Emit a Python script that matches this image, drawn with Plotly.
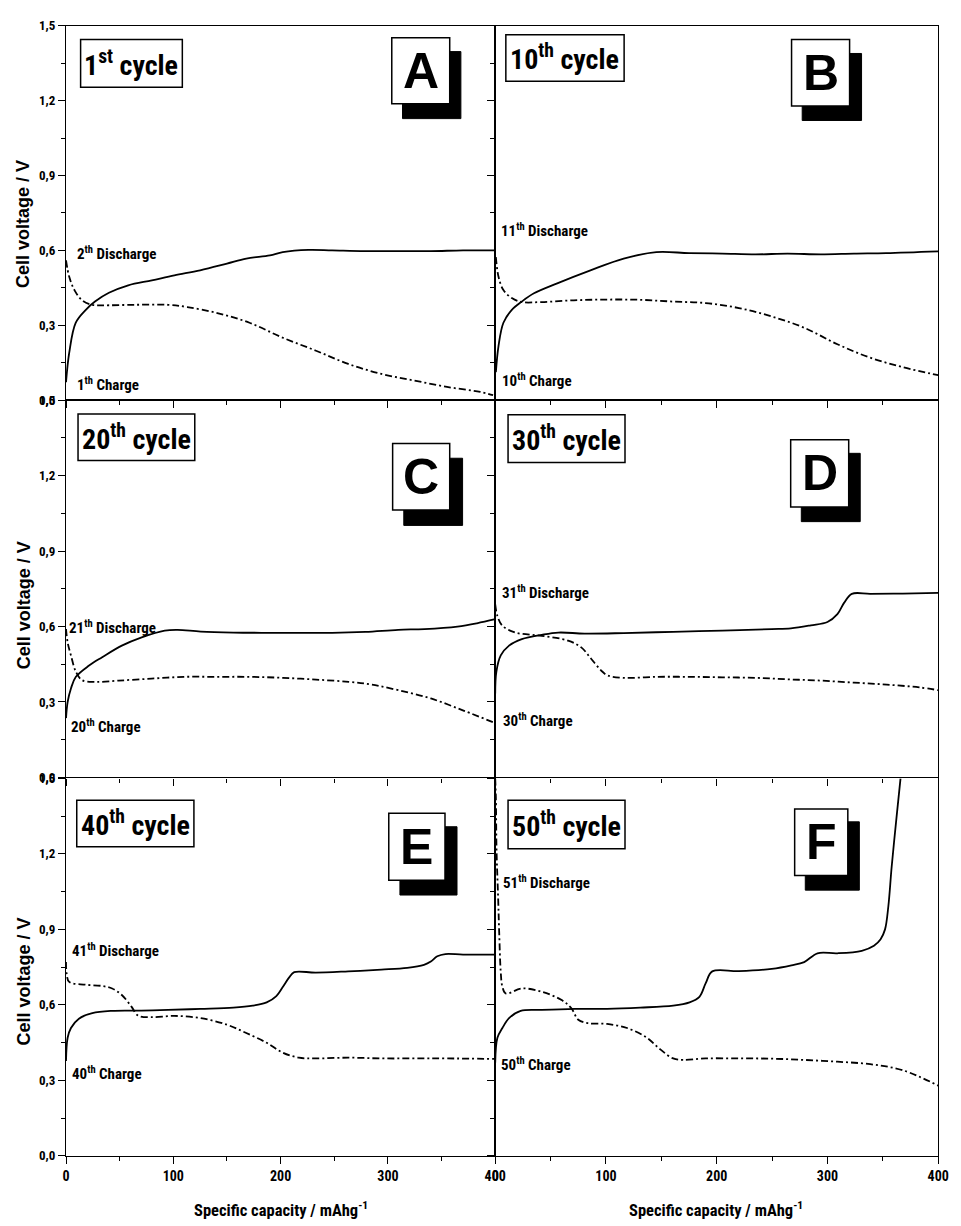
import plotly.graph_objects as go
from plotly.subplots import make_subplots

# ---------------- DATA (specific capacity mAh/g, cell voltage V) ----------------
A_charge_cap = [0, 3, 9, 18, 27, 40, 58, 80, 101, 125, 150, 168, 190, 202, 226, 248, 278, 309, 340, 370, 400]
A_charge_volt = [0.072, 0.19, 0.31, 0.36, 0.395, 0.43, 0.46, 0.48, 0.50, 0.52, 0.547, 0.567, 0.58, 0.593, 0.602, 0.60, 0.597, 0.597, 0.597, 0.60, 0.60]
A_dis_cap = [0, 3, 8, 15, 24, 34, 64, 95, 113, 141, 171, 202, 233, 263, 294, 324, 355, 386, 398]
A_dis_volt = [0.56, 0.494, 0.44, 0.40, 0.382, 0.38, 0.382, 0.382, 0.373, 0.349, 0.31, 0.25, 0.198, 0.145, 0.105, 0.079, 0.053, 0.033, 0.02]

B_charge_cap = [0.6, 3, 7.4, 15, 24, 35, 56, 86, 116, 145.5, 175, 205, 235, 264, 294, 324, 353, 400]
B_charge_volt = [0.112, 0.217, 0.31, 0.362, 0.395, 0.428, 0.468, 0.52, 0.567, 0.593, 0.589, 0.587, 0.584, 0.587, 0.584, 0.587, 0.589, 0.596]
B_dis_cap = [0.6, 3, 7.4, 15, 24, 41.6, 71, 101, 130.7, 160, 190, 220, 249, 279, 309, 338, 368, 400]
B_dis_volt = [0.573, 0.494, 0.441, 0.409, 0.393, 0.393, 0.40, 0.403, 0.402, 0.395, 0.389, 0.369, 0.336, 0.29, 0.224, 0.171, 0.132, 0.10]

C_charge_cap = [0, 1.5, 4.6, 9.2, 21.5, 33.7, 52, 70.5, 92, 104, 125.6, 156, 187, 217.6, 248, 279, 309.6, 334, 364.8, 383, 400]
C_charge_volt = [0.236, 0.30, 0.354, 0.40, 0.445, 0.478, 0.524, 0.557, 0.584, 0.587, 0.58, 0.576, 0.575, 0.575, 0.575, 0.579, 0.587, 0.59, 0.60, 0.613, 0.629]
C_dis_cap = [0, 1.5, 4.6, 9.2, 15, 27.6, 49, 79.7, 110, 141, 171.6, 202, 233, 263.6, 285, 309.6, 340, 371, 400]
C_dis_volt = [0.59, 0.537, 0.485, 0.42, 0.387, 0.38, 0.385, 0.393, 0.40, 0.40, 0.40, 0.396, 0.389, 0.38, 0.369, 0.347, 0.314, 0.265, 0.216]

D_charge_cap = [0, 1, 5, 12.5, 24, 42, 57, 80.6, 116, 160.7, 205, 249.6, 267, 285, 300, 309, 315, 322, 338.6, 368, 400]
D_charge_volt = [0.334, 0.419, 0.485, 0.524, 0.55, 0.567, 0.576, 0.572, 0.574, 0.579, 0.584, 0.59, 0.593, 0.605, 0.618, 0.649, 0.694, 0.73, 0.73, 0.731, 0.734]
D_dis_cap = [0, 2, 6.5, 18.4, 42, 65.8, 77.7, 86.6, 95.5, 101.4, 116, 146, 175.5, 205, 235, 264.5, 294, 324, 353.6, 383, 400]
D_dis_volt = [0.688, 0.642, 0.603, 0.576, 0.563, 0.544, 0.517, 0.472, 0.426, 0.406, 0.396, 0.40, 0.40, 0.398, 0.396, 0.39, 0.385, 0.377, 0.369, 0.358, 0.347]

E_charge_cap = [0, 1.5, 4.6, 12, 24.5, 43, 70, 95, 125.5, 156, 174, 187, 196, 202, 208, 212.7, 232.6, 263, 294, 318, 333.6, 340, 346, 353.5, 370, 400]
E_charge_volt = [0.377, 0.469, 0.508, 0.545, 0.567, 0.576, 0.577, 0.58, 0.584, 0.589, 0.597, 0.61, 0.635, 0.671, 0.709, 0.73, 0.728, 0.733, 0.74, 0.747, 0.759, 0.772, 0.793, 0.802, 0.80, 0.80]
E_dis_cap = [0, 0.6, 3, 18, 33.7, 43, 52, 61, 67, 79.6, 101, 125.5, 150, 168, 187, 202, 217, 232.6, 263, 294, 324, 355, 400]
E_dis_volt = [0.77, 0.724, 0.691, 0.68, 0.675, 0.665, 0.639, 0.593, 0.558, 0.551, 0.556, 0.547, 0.521, 0.488, 0.449, 0.41, 0.39, 0.387, 0.39, 0.387, 0.387, 0.387, 0.385]

F_charge_cap = [0, 2, 6.5, 12.5, 23, 42, 71.8, 101, 131, 160.7, 175.5, 184.4, 190, 196, 220, 249.7, 267.5, 279, 291, 309, 331, 342, 348, 352, 355, 358, 362.4, 366]
F_charge_volt = [0.37, 0.469, 0.508, 0.547, 0.576, 0.58, 0.584, 0.584, 0.589, 0.597, 0.61, 0.632, 0.685, 0.733, 0.734, 0.743, 0.757, 0.77, 0.805, 0.805, 0.815, 0.835, 0.861, 0.90, 0.992, 1.149, 1.346, 1.50]
F_dis_cap = [0, 0.6, 1.2, 2.7, 3.6, 5, 6.5, 9.5, 24, 42, 60, 68.8, 75, 83.6, 101, 119, 137, 149, 160.7, 169.6, 190, 220, 249.7, 279, 309, 338.6, 368, 400]
F_dis_volt = [1.50, 1.424, 1.215, 1.018, 0.887, 0.73, 0.671, 0.645, 0.665, 0.652, 0.619, 0.586, 0.541, 0.527, 0.524, 0.508, 0.469, 0.423, 0.387, 0.381, 0.387, 0.387, 0.386, 0.381, 0.374, 0.364, 0.34, 0.279]

cycle_labels = ["1<sup>st</sup> cycle", "10<sup>th</sup> cycle", "20<sup>th</sup> cycle",
                "30<sup>th</sup> cycle", "40<sup>th</sup> cycle", "50<sup>th</sup> cycle"]
panel_letters = ["A", "B", "C", "D", "E", "F"]
discharge_labels = ["2<sup>th</sup> Discharge", "11<sup>th</sup> Discharge", "21<sup>th</sup> Discharge",
                    "31<sup>th</sup> Discharge", "41<sup>th</sup> Discharge", "51<sup>th</sup> Discharge"]
charge_labels = ["1<sup>th</sup> Charge", "10<sup>th</sup> Charge", "20<sup>th</sup> Charge",
                 "30<sup>th</sup> Charge", "40<sup>th</sup> Charge", "50<sup>th</sup> Charge"]
y_title = "Cell voltage / V"
x_title = "Specific capacity / mAhg<sup>-1</sup>"

charges = [(A_charge_cap, A_charge_volt), (B_charge_cap, B_charge_volt), (C_charge_cap, C_charge_volt),
           (D_charge_cap, D_charge_volt), (E_charge_cap, E_charge_volt), (F_charge_cap, F_charge_volt)]
discharges = [(A_dis_cap, A_dis_volt), (B_dis_cap, B_dis_volt), (C_dis_cap, C_dis_volt),
              (D_dis_cap, D_dis_volt), (E_dis_cap, E_dis_volt), (F_dis_cap, F_dis_volt)]

# ---------------- LAYOUT (positions / styles) ----------------
W, H = 961, 1226
NARROW = "Roboto Condensed, Liberation Sans Narrow, Arial Narrow, Liberation Sans, Arial, sans-serif"
SANS = "Liberation Sans, Arial, sans-serif"

xdom = {1: (63 / W, 499 / W), 2: (499 / W, 949 / W)}
ydom = {1: (1 - 398 / H, 1 - 19 / H), 2: (1 - 780 / H, 1 - 398 / H), 3: (1 - 1163 / H, 1 - 781 / H)}

dis_label_pos = [(8, 0.59), (3, 0.68), (1, 0.60), (4, 0.738), (4, 0.817), (5, 1.088)]
ch_label_pos = [(8, 0.063), (4, 0.079), (3, 0.204), (5, 0.228), (4, 0.33), (3, 0.365)]
cycle_box = [(0.034, 0.271, 0.836, 0.963), (0.024, 0.291, 0.852, 0.976), (0.028, 0.300, 0.840, 0.963),
             (0.029, 0.293, 0.835, 0.961), (0.025, 0.298, 0.819, 0.942), (0.029, 0.293, 0.814, 0.942)]
letter_box = [(0.759, 0.894, 0.792, 0.968), (0.669, 0.800, 0.786, 0.963), (0.761, 0.894, 0.709, 0.885),
              (0.667, 0.798, 0.717, 0.895), (0.752, 0.883, 0.730, 0.908), (0.676, 0.796, 0.743, 0.919)]
shadow_box = [(0.784, 0.920, 0.752, 0.931), (0.693, 0.827, 0.747, 0.926), (0.787, 0.924, 0.668, 0.846),
              (0.691, 0.824, 0.678, 0.859), (0.778, 0.911, 0.691, 0.872), (0.700, 0.822, 0.704, 0.885)]

fig = make_subplots(rows=3, cols=2, horizontal_spacing=0, vertical_spacing=0)

shapes = []
annotations = []
for i in range(6):
    row, col = i // 2 + 1, i % 2 + 1
    idx = i + 1
    xr = "x" if idx == 1 else f"x{idx}"
    yr = "y" if idx == 1 else f"y{idx}"
    cx, cv = charges[i]
    dx, dv = discharges[i]
    fig.add_trace(go.Scatter(x=cx, y=cv, mode="lines", line=dict(color="black", width=1.8),
                             line_shape="spline", showlegend=False), row=row, col=col)
    fig.add_trace(go.Scatter(x=dx, y=dv, mode="lines",
                             line=dict(color="black", width=1.8, dash="7px,3px,2px,3px"),
                             line_shape="spline", showlegend=False), row=row, col=col)

    fig.update_xaxes(domain=list(xdom[col]), range=[0, 400], dtick=100, tick0=0,
                     ticks="outside", ticklen=7, tickwidth=1.3, tickcolor="black",
                     minor=dict(dtick=50, ticks="outside", ticklen=4, tickwidth=1.2, tickcolor="black"),
                     showline=True, linecolor="black", linewidth=1.2, mirror=True,
                     showgrid=False, zeroline=False, showticklabels=(row == 3),
                     tickfont=dict(family=NARROW, size=14, color="black", weight="bold"),
                     row=row, col=col)
    fig.update_yaxes(domain=list(ydom[row]), range=[0, 1.5], dtick=0.3, tick0=0, tickformat=".1f",
                     ticks="outside", ticklen=7, tickwidth=1.3, tickcolor="black",
                     minor=dict(dtick=0.15, ticks="outside", ticklen=4, tickwidth=1.2, tickcolor="black"),
                     showline=True, linecolor="black", linewidth=1.2, mirror=True,
                     showgrid=False, zeroline=False, showticklabels=(col == 1),
                     tickfont=dict(family=NARROW, size=13, color="black", weight="bold"),
                     row=row, col=col)

    xd, yd = f"{xr} domain", f"{yr} domain"
    b = cycle_box[i]
    shapes.append(dict(type="rect", xref=xd, yref=yd, x0=b[0], x1=b[1], y0=b[2], y1=b[3],
                       line=dict(color="black", width=1.5), fillcolor="white", layer="above"))
    annotations.append(dict(xref=xd, yref=yd, x=(b[0] + b[1]) / 2, y=(b[2] + b[3]) / 2,
                            text=f"<b>{cycle_labels[i]}</b>", showarrow=False,
                            xanchor="center", yanchor="middle",
                            font=dict(family=NARROW, size=28, color="black")))
    s = shadow_box[i]
    shapes.append(dict(type="rect", xref=xd, yref=yd, x0=s[0], x1=s[1], y0=s[2], y1=s[3],
                       line=dict(color="black", width=1), fillcolor="black", layer="above"))
    lb = letter_box[i]
    shapes.append(dict(type="rect", xref=xd, yref=yd, x0=lb[0], x1=lb[1], y0=lb[2], y1=lb[3],
                       line=dict(color="black", width=1.5), fillcolor="white", layer="above"))
    annotations.append(dict(xref=xd, yref=yd, x=(lb[0] + lb[1]) / 2, y=(lb[2] + lb[3]) / 2,
                            text=f"<b>{panel_letters[i]}</b>", showarrow=False,
                            xanchor="center", yanchor="middle",
                            font=dict(family=SANS, size=50, color="black")))
    annotations.append(dict(xref=xr, yref=yr, x=dis_label_pos[i][0], y=dis_label_pos[i][1],
                            text=f"<b>{discharge_labels[i]}</b>", showarrow=False,
                            xanchor="left", yanchor="middle",
                            font=dict(family=NARROW, size=15, color="black")))
    annotations.append(dict(xref=xr, yref=yr, x=ch_label_pos[i][0], y=ch_label_pos[i][1],
                            text=f"<b>{charge_labels[i]}</b>", showarrow=False,
                            xanchor="left", yanchor="middle",
                            font=dict(family=NARROW, size=15, color="black")))

for cy in [220, 606, 987]:
    annotations.append(dict(xref="paper", yref="paper", x=20 / W, y=1 - cy / H,
                            text=f"<b>{y_title}</b>", showarrow=False, textangle=-90,
                            xanchor="center", yanchor="middle",
                            font=dict(family=SANS, size=18, color="black")))
for cx in [281, 723]:
    annotations.append(dict(xref="paper", yref="paper", x=cx / W, y=1 - 1217 / H,
                            text=f"<b>{x_title}</b>", showarrow=False,
                            xanchor="center", yanchor="middle",
                            font=dict(family=NARROW, size=16.5, color="black")))

fig.update_layout(width=W, height=H, margin=dict(l=0, r=0, t=0, b=0),
                  paper_bgcolor="white", plot_bgcolor="white",
                  separators=",.", shapes=shapes, annotations=annotations,
                  showlegend=False)

fig.write_html("out.html")
